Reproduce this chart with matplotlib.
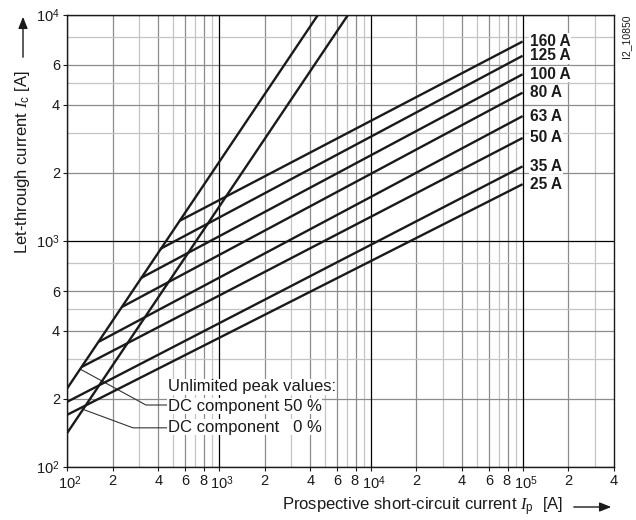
import matplotlib
matplotlib.use("Agg")
import matplotlib.pyplot as plt
from matplotlib.patches import FancyArrowPatch
from matplotlib.ticker import FixedLocator, FixedFormatter, NullLocator
from matplotlib.transforms import ScaledTranslation

# ---------------- data ----------------
fuse_ratings = ['160 A', '125 A', '100 A', '80 A', '63 A', '50 A', '35 A', '25 A']
fuse_ip_start = [550, 410, 307, 230, 162, 125, 100, 100]
fuse_ic_start = [1225, 920, 685, 510, 358, 277, 194, 170]
fuse_ip_end = [1e5, 1e5, 1e5, 1e5, 1e5, 1e5, 1e5, 1e5]
fuse_ic_end = [7610, 6580, 5450, 4520, 3560, 2850, 2135, 1780]

peak_dc50_ip = [100, 4500]
peak_dc50_ic = [222, 10000]
peak_dc0_ip = [100, 7100]
peak_dc0_ic = [141, 10000]

x_tick_values = [1e2, 2e2, 4e2, 6e2, 8e2, 1e3, 2e3, 4e3, 6e3, 8e3,
                 1e4, 2e4, 4e4, 6e4, 8e4, 1e5, 2e5, 4e5]
x_tick_labels = ['$10^2$', '2', '4', '6', '8', '$10^3$', '2', '4', '6', '8',
                 '$10^4$', '2', '4', '6', '8', '$10^5$', '2', '4']
y_tick_values = [1e2, 2e2, 4e2, 6e2, 1e3, 2e3, 4e3, 6e3, 1e4]
y_tick_labels = ['$10^2$', '2', '4', '6', '$10^3$', '2', '4', '6', '$10^4$']

x_major_grid = [1e2, 1e3, 1e4, 1e5]
x_dark_grid = [2e2, 4e2, 6e2, 8e2, 2e3, 4e3, 6e3, 8e3, 2e4, 4e4, 6e4, 8e4, 2e5]
x_light_grid = [3e2, 5e2, 7e2, 9e2, 3e3, 5e3, 7e3, 9e3, 3e4, 5e4, 7e4, 9e4, 3e5]
y_major_grid = [1e2, 1e3, 1e4]
y_dark_grid = [2e2, 4e2, 6e2, 2e3, 4e3, 6e3]
y_light_grid = [3e2, 5e2, 8e2, 3e3, 5e3, 8e3]

# annotation leaders (data coords)
leader50_x = [122, 331, 455]
leader50_y = [271, 188, 188]
leader0_x = [127, 272, 455]
leader0_y = [180, 149, 149]
annot_lines = ['Unlimited peak values:', 'DC component 50 %', 'DC component   0 %']
annot_y = [226, 186, 150]
annot_x = 460

# ---------------- style ----------------
plt.rcParams['font.family'] = ['Liberation Sans', 'DejaVu Sans']
plt.rcParams['mathtext.fontset'] = 'custom'
plt.rcParams['mathtext.rm'] = 'Liberation Sans'
plt.rcParams['mathtext.it'] = 'Liberation Serif:italic'
plt.rcParams['mathtext.bf'] = 'Liberation Sans:bold'

fig = plt.figure(figsize=(6.36, 5.2), dpi=100)
W, H = 636, 520
ax = fig.add_axes([67 / W, 1 - 467 / H, (614 - 67) / W, (467 - 14.7) / H])
ax.set_xscale('log')
ax.set_yscale('log')
ax.set_xlim(1e2, 4e5)
ax.set_ylim(1e2, 1e4)

# grid
for v in x_light_grid:
    ax.axvline(v, color='#c4c4c4', lw=0.9, zorder=1)
for v in x_dark_grid:
    ax.axvline(v, color='#8c8c8c', lw=0.9, zorder=1)
for v in x_major_grid:
    ax.axvline(v, color='black', lw=0.9, zorder=2)
for v in y_light_grid:
    ax.axhline(v, color='#c4c4c4', lw=0.9, zorder=1)
for v in y_dark_grid:
    ax.axhline(v, color='#8c8c8c', lw=0.9, zorder=1)
for v in y_major_grid:
    ax.axhline(v, color='black', lw=0.9, zorder=2)

# curves
lc = '#1a1a1a'
ax.plot(peak_dc50_ip, peak_dc50_ic, color=lc, lw=1.7, zorder=5, solid_capstyle='butt')
ax.plot(peak_dc0_ip, peak_dc0_ic, color=lc, lw=1.7, zorder=5, solid_capstyle='butt')
for xs, ys, xe, ye in zip(fuse_ip_start, fuse_ic_start, fuse_ip_end, fuse_ic_end):
    ax.plot([xs, xe], [ys, ye], color=lc, lw=1.7, zorder=5, solid_capstyle='butt')

# fuse labels
for lab, ye in zip(fuse_ratings, fuse_ic_end):
    ax.text(1.12e5, ye, lab, ha='left', va='center', fontsize=11.2, fontweight='bold',
            color='#1a1a1a', zorder=6, clip_on=False,
            bbox=dict(facecolor='white', edgecolor='none', pad=0.4))

# annotation
ax.plot(leader50_x, leader50_y, color='#333333', lw=0.8, zorder=4)
ax.plot(leader0_x, leader0_y, color='#333333', lw=0.8, zorder=4)
for txt, yy in zip(annot_lines, annot_y):
    ax.text(annot_x, yy, txt, ha='left', va='center', fontsize=12, color='#1a1a1a',
            zorder=6, bbox=dict(facecolor='white', edgecolor='none', pad=0.3))

# ticks
ax.xaxis.set_major_locator(FixedLocator(x_tick_values))
ax.xaxis.set_major_formatter(FixedFormatter(x_tick_labels))
ax.xaxis.set_minor_locator(NullLocator())
ax.yaxis.set_major_locator(FixedLocator(y_tick_values))
ax.yaxis.set_major_formatter(FixedFormatter(y_tick_labels))
ax.yaxis.set_minor_locator(NullLocator())
ax.tick_params(axis='both', which='major', direction='out', length=3, width=0.8,
               labelsize=10.5, colors='#1a1a1a', pad=2)
for s in ax.spines.values():
    s.set_linewidth(1.0)
    s.set_color('#1a1a1a')
    s.set_zorder(7)

# nudge the "8" labels slightly left and decade labels slightly right so they don't collide
fig.canvas.draw()
for lab in ax.get_xticklabels():
    t = lab.get_text()
    if t == '8':
        lab.set_horizontalalignment('right')
        lab.set_transform(lab.get_transform() + ScaledTranslation(3 / 100, 0, fig.dpi_scale_trans))
    elif t.startswith('$10'):
        lab.set_horizontalalignment('left')
        lab.set_transform(lab.get_transform() + ScaledTranslation(-9 / 100, 0, fig.dpi_scale_trans))

# axis labels with arrows
fig.text(23 / W, 1 - 162 / H, r'Let-through current $I_{\rm c}$ [A]', rotation=90,
         ha='center', va='center', fontsize=12, color='#1a1a1a')
fig.add_artist(FancyArrowPatch((23 / W, 1 - 60 / H), (23 / W, 1 - 14 / H),
                               transform=fig.transFigure, arrowstyle='-|>,head_length=7,head_width=2.8',
                               lw=1.0, color='#1a1a1a', mutation_scale=1))
fig.text(563 / W, 1 - 507 / H, r'Prospective short-circuit current $I_{\rm p}$  [A]',
         ha='right', va='center', fontsize=12, color='#1a1a1a')
fig.add_artist(FancyArrowPatch((571 / W, 1 - 507 / H), (614 / W, 1 - 507 / H),
                               transform=fig.transFigure, arrowstyle='-|>,head_length=7,head_width=2.8',
                               lw=1.0, color='#1a1a1a', mutation_scale=1))

fig.text(626 / W, 1 - 15 / H, 'I2_10850', rotation=90, ha='center', va='top',
         fontsize=7.5, color='#1a1a1a')

fig.savefig('out.png', dpi=100)
